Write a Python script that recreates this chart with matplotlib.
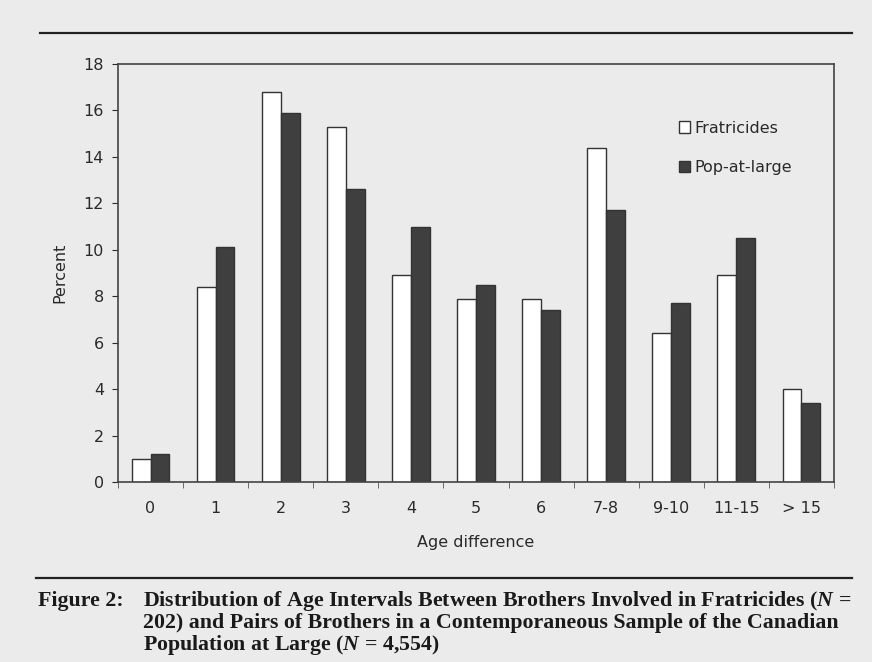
import matplotlib
matplotlib.use('Agg')
import matplotlib.pyplot as plt
from matplotlib.lines import Line2D
import numpy as np

# Data (percent)
categories = ['0', '1', '2', '3', '4', '5', '6', '7-8', '9-10', '11-15', '> 15']
fratricides = [1.0, 8.4, 16.8, 15.3, 8.9, 7.9, 7.9, 14.4, 6.4, 8.9, 4.0]
pop_at_large = [1.2, 10.1, 15.9, 12.6, 11.0, 8.5, 7.4, 11.7, 7.7, 10.5, 3.4]
y_ticks = [0, 2, 4, 6, 8, 10, 12, 14, 16, 18]

plt.rcParams['font.family'] = ['DejaVu Sans']
plt.rcParams['mathtext.fontset'] = 'custom'
plt.rcParams['mathtext.it'] = 'Liberation Serif:italic:bold'
plt.rcParams['mathtext.rm'] = 'Liberation Serif:bold'

bg = '#ebebeb'
txt = '#2a2a2a'
fig = plt.figure(figsize=(8.72, 6.62), dpi=100, facecolor=bg)
ax = fig.add_axes([0.1353, 0.2719, 0.8211, 0.6314])
ax.set_facecolor(bg)

x = np.arange(len(categories))
w = 0.29
ax.bar(x - w / 2, fratricides, w, color='white', edgecolor='#333333', linewidth=1.0,
       label='Fratricides')
ax.bar(x + w / 2, pop_at_large, w, color='#3f3f3f', edgecolor='#333333', linewidth=1.0,
       label='Pop-at-large')

ax.set_xlim(-0.5, len(categories) - 0.5)
ax.set_ylim(0, 18)
ax.set_yticks(y_ticks)
ax.set_xticks(x)
ax.set_xticklabels(categories)
ax.set_xticks(np.arange(len(categories) + 1) - 0.5, minor=True)
ax.tick_params(axis='x', which='major', length=0, pad=14, labelsize=11.5, colors=txt)
ax.tick_params(axis='x', which='minor', length=4, direction='out', color='#555555')
ax.tick_params(axis='y', length=4, direction='out', labelsize=11.5, colors=txt, pad=6)
for s in ax.spines.values():
    s.set_color('#444444')
    s.set_linewidth(1.2)

ax.set_ylabel('Percent', fontsize=11.5, color=txt, labelpad=12)
ax.set_xlabel('Age difference', fontsize=11.5, color=txt, labelpad=13)

leg = ax.legend(loc='upper left', bbox_to_anchor=(0.775, 0.88), frameon=False,
                handlelength=0.7, handleheight=0.7, handletextpad=0.25,
                labelspacing=1.55, fontsize=11.5, borderaxespad=0)
for t in leg.get_texts():
    t.set_color(txt)

# horizontal rules
fig.add_artist(Line2D([40 / 872, 852 / 872], [1 - 33 / 662, 1 - 33 / 662],
                      color='#222222', linewidth=1.6))
fig.add_artist(Line2D([36 / 872, 852 / 872], [1 - 578 / 662, 1 - 578 / 662],
                      color='#222222', linewidth=1.6))

cap = dict(fontsize=15.75, family='Liberation Serif', weight='bold', color='#1a1a1a', va='center')
fig.text(38 / 872, 1 - 601 / 662, 'Figure 2:', **cap)
fig.text(143 / 872, 1 - 601 / 662,
         r'Distribution of Age Intervals Between Brothers Involved in Fratricides ($N$ =', **cap)
fig.text(143 / 872, 1 - 623 / 662,
         '202) and Pairs of Brothers in a Contemporaneous Sample of the Canadian', **cap)
fig.text(143 / 872, 1 - 645 / 662, r'Population at Large ($N$ = 4,554)', **cap)

fig.savefig('out.png', dpi=100, facecolor=bg)
